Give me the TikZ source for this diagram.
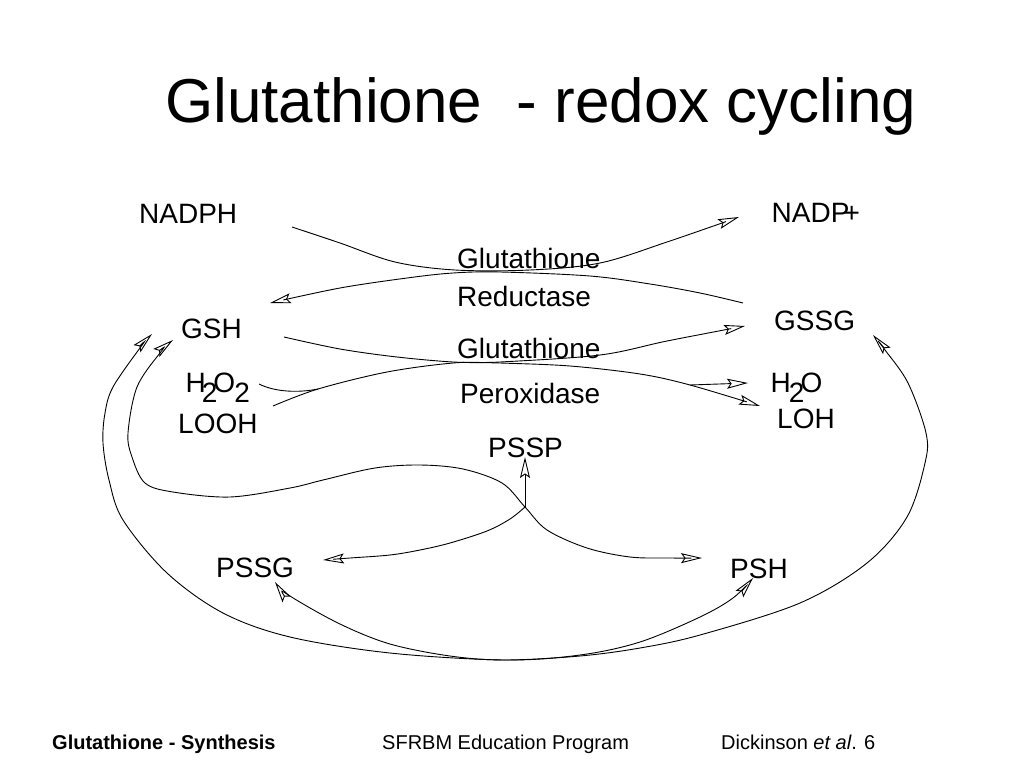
\documentclass[tikz,border=0pt]{standalone}
\usepackage{fontspec}
\setmainfont{Liberation Sans}
\usetikzlibrary{arrows.meta}
\begin{document}
\begin{tikzpicture}[x=1pt,y=-1pt,
  >={Stealth[open,length=21pt,width=10pt,inset=3.5pt]},
  lbl/.style={inner sep=0pt, anchor=base west, font=\fontsize{28}{34}\selectfont},
  foot/.style={inner sep=0pt, anchor=base west, font=\fontsize{20}{24}\selectfont},
  conn/.style={line width=0.9pt},
  sm/.style={smooth, tension=0.55}]
\useasboundingbox (0,0) rectangle (1024,768);
\fill[white] (0,0) rectangle (1024,768);

% title
\node[inner sep=0pt, anchor=base west, font=\fontsize{62}{74}\selectfont] (title) at (165,122) {Glutathione\ \ - redox cycling};

% labels
\node[lbl] (nadph) at (139,223) {NADPH};
\node[lbl] (nadp) at (771.5,222) {NADP\kern-6pt+};
\node[lbl] (glu1) at (457,268) {Glutathione};
\node[lbl] (red) at (457,306) {Reductase};
\node[lbl] (glu2) at (457,358) {Glutathione};
\node[lbl] (perox) at (460,403) {Peroxidase};
\node[lbl] (gsh) at (181,338) {GSH};
\node[lbl] (h2o2) at (185.5,392) {H\kern-4pt\raisebox{-10pt}{2}\kern-4pt O\kern-1pt\raisebox{-10pt}{2}};
\node[lbl] (looh) at (178,433) {LOOH};
\node[lbl] (gssg) at (774,330) {GSSG};
\node[lbl] (h2o) at (770.5,392) {H\kern-2pt\raisebox{-10pt}{2}\kern-4pt O};
\node[lbl] (loh) at (777,428) {LOH};
\node[lbl] (pssp) at (488,457) {PSSP};
\node[lbl] (pssg) at (216,577) {PSSG};
\node[lbl] (psh) at (730,578) {PSH};

% footer
\node[foot, font=\fontsize{20}{24}\selectfont\bfseries] (f1) at (52,749) {Glutathione - Synthesis};
\node[foot] (f2) at (382,749) {SFRBM Education Program};
\node[foot] (f3) at (721,749) {Dickinson \textit{et al}. 6};

% connector end points
\coordinate (aS) at (292,227);  \coordinate (aE) at (739,217);
\coordinate (bS) at (743,303);  \coordinate (bE) at (270,303);
\coordinate (cS) at (284,337);  \coordinate (cE) at (760,406);
\coordinate (cB) at (690,385);  \coordinate (hE) at (748,383);
\coordinate (dS) at (273,406);  \coordinate (dE) at (745,326);
\coordinate (pS) at (259,384);  \coordinate (pM) at (318,389);
\coordinate (J)  at (525,507);  \coordinate (jT) at (525,457);
\coordinate (eS) at (173,340);  \coordinate (eE) at (702,558);
\coordinate (fE) at (323,560);
\coordinate (gS) at (152,334);  \coordinate (gE) at (753,578);
\coordinate (hS) at (275,582);  \coordinate (hF) at (873,335);
\coordinate (bot) at (505,660);

% Glutathione reductase
\draw[conn,->] plot[sm] coordinates {(aS) (340,243) (395,262) (455,270) (530,270) (600,263) (667,242) (aE)};
\draw[conn,->] plot[sm] coordinates {(bS) (700,293) (650,284) (590,276) (500,272) (453,273) (407,278) (340,288) (bE)};

% Glutathione peroxidase
\draw[conn,->] plot[sm] coordinates {(cS) (340,349) (397,357) (453,362) (500,363) (570,366) (640,374) (cB) (cE)};
\draw[conn,->] (cB) -- (hE);
\draw[conn,->] plot[sm] coordinates {(dS) (pM) (387,372) (453,363) (500,362) (600,355) (667,341) (dE)};
\draw[conn] (pS) .. controls (275,392) and (298,393) .. (pM);

% PSSP junction
\draw[conn,->] (J) -- (jT);
\draw[conn,<->] plot[sm] coordinates {(eS) (160,353) (137,387) (128,433) (132,457) (145,483) (173,492) (230,497) (290,488) (323,480) (375,468) (420,465) (463,469) (502,483) (J) (547,530) (587,548) (630,557) (670,558) (eE)};
\draw[conn,->] plot[sm] coordinates {(J) (510,519) (487,531) (450,543) (420,550) (390,555) (350,558) (fE)};

% outer curves
\draw[conn,<->] plot[sm] coordinates {(gS) (140,348) (113,387) (105,413) (103,443) (109,480) (123,520) (167,573) (223,613) (290,637) (390,653) (bot) (580,655) (640,642) (700,617) (733,598) (gE)};
\draw[conn,<->] plot[sm] coordinates {(hS) (290,596) (340,624) (390,644) (450,656) (bot) (580,656) (640,648) (700,635) (800,603) (867,563) (907,517) (925,463) (926,433) (908,383) (885,350) (hF)};
\end{tikzpicture}
\end{document}
